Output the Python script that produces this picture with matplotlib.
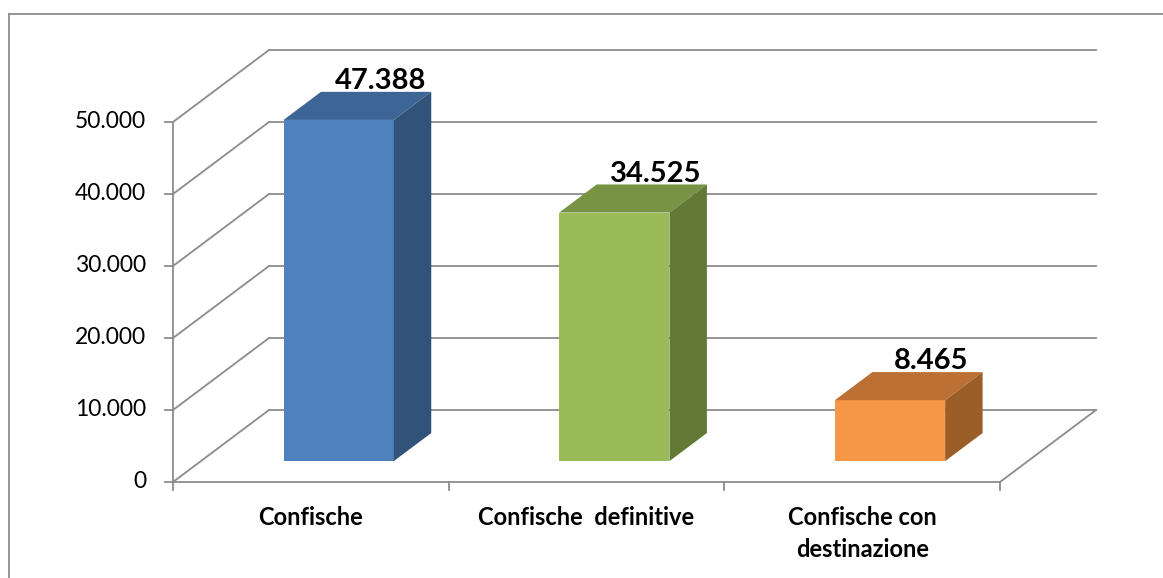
import matplotlib.pyplot as plt
from matplotlib.patches import Polygon
from matplotlib.lines import Line2D

# data
categories = ['Confische', 'Confische  definitive', 'Confische con\ndestinazione']
values = [47388, 34525, 8465]
value_labels = ['47.388', '34.525', '8.465']
ticks = [0, 10000, 20000, 30000, 40000, 50000]
tick_labels = ['0', '10.000', '20.000', '30.000', '40.000', '50.000']

front_colors = ['#4F81BD', '#9BBB59', '#F79646']
top_colors = ['#3D6596', '#779343', '#BD7033']
side_colors = ['#315379', '#627A36', '#9B5E29']
grid_col = '#8C8C8C'

plt.rcParams['font.family'] = ['Lato', 'DejaVu Sans']

# pseudo 3d projection (oblique, like the excel chart)
CAT_PX = 275.67
DX = 96 / CAT_PX      # depth shift in category units
DY = 10000            # depth shift in value units
D0, D1 = 0.29, 0.68   # bar front / back depth
BW = 0.4              # bar width


def proj(x, v, d):
    return x + d * DX, v + d * DY


fig = plt.figure(figsize=(11.63, 5.78), dpi=100)
ax = fig.add_axes([0, 0, 1, 1])
ax.set_xlim(-173 / CAT_PX, (1163 - 173) / CAT_PX)
ax.set_ylim((482 - 578) * 10000 / 72, 482 * 10000 / 72)
ax.axis('off')

n = len(categories)
lw = 1.3

# walls / gridlines
for t, lab in zip(ticks, tick_labels):
    xa, ya = proj(0, t, 1)
    xb, yb = proj(n, t, 1)
    ax.plot([xa, xb], [ya, yb], color=grid_col, lw=lw, zorder=1)
    xf, yf = proj(0, t, 0)
    ax.plot([xf, xa], [yf, ya], color=grid_col, lw=lw, zorder=1)
    ax.plot([xf - 8 / CAT_PX, xf], [yf, yf], color=grid_col, lw=lw, zorder=1)
    ax.text(xf - 27 / CAT_PX, yf, lab, ha='right', va='center', fontsize=16.5, color='black')

# front y axis and floor
ax.plot([0, 0], [0, ticks[-1]], color=grid_col, lw=lw, zorder=1)
ax.plot([0, n], [0, 0], color=grid_col, lw=lw, zorder=1)
xr, yr = proj(n, 0, 1)
ax.plot([n, xr], [0, yr], color=grid_col, lw=lw, zorder=1)
for i in range(n + 1):
    ax.plot([i, i], [0, -8 * 10000 / 72], color=grid_col, lw=lw, zorder=1)

# bars
for i, (v, lab) in enumerate(zip(values, value_labels)):
    x0 = i + 0.5 - BW / 2
    x1 = i + 0.5 + BW / 2
    front = [proj(x0, 0, D0), proj(x1, 0, D0), proj(x1, v, D0), proj(x0, v, D0)]
    top = [proj(x0, v, D0), proj(x1, v, D0), proj(x1, v, D1), proj(x0, v, D1)]
    side = [proj(x1, 0, D0), proj(x1, 0, D1), proj(x1, v, D1), proj(x1, v, D0)]
    ax.add_patch(Polygon(front, closed=True, facecolor=front_colors[i], edgecolor='none', zorder=3))
    ax.add_patch(Polygon(top, closed=True, facecolor=top_colors[i], edgecolor='none', zorder=3))
    ax.add_patch(Polygon(side, closed=True, facecolor=side_colors[i], edgecolor='none', zorder=3))
    lx, ly = proj(i + 0.5, v, D1)
    ax.text(lx + 4 / CAT_PX, ly - 300, lab, ha='center', va='bottom', fontsize=21,
            fontweight='bold', color='black', zorder=4)

# category labels
for i, c in enumerate(categories):
    ax.text(i + 0.5, -24 * 10000 / 72, c, ha='center', va='top', fontsize=17,
            fontweight='bold', color='black', linespacing=1.45)

# outer frame (left and top edges visible)
fig.add_artist(Line2D([9 / 1163, 9 / 1163], [0, 1 - 14 / 578], color=grid_col, lw=1.3))
fig.add_artist(Line2D([9 / 1163, 1], [1 - 14 / 578, 1 - 14 / 578], color=grid_col, lw=1.3))

fig.savefig('out.png', dpi=100)
